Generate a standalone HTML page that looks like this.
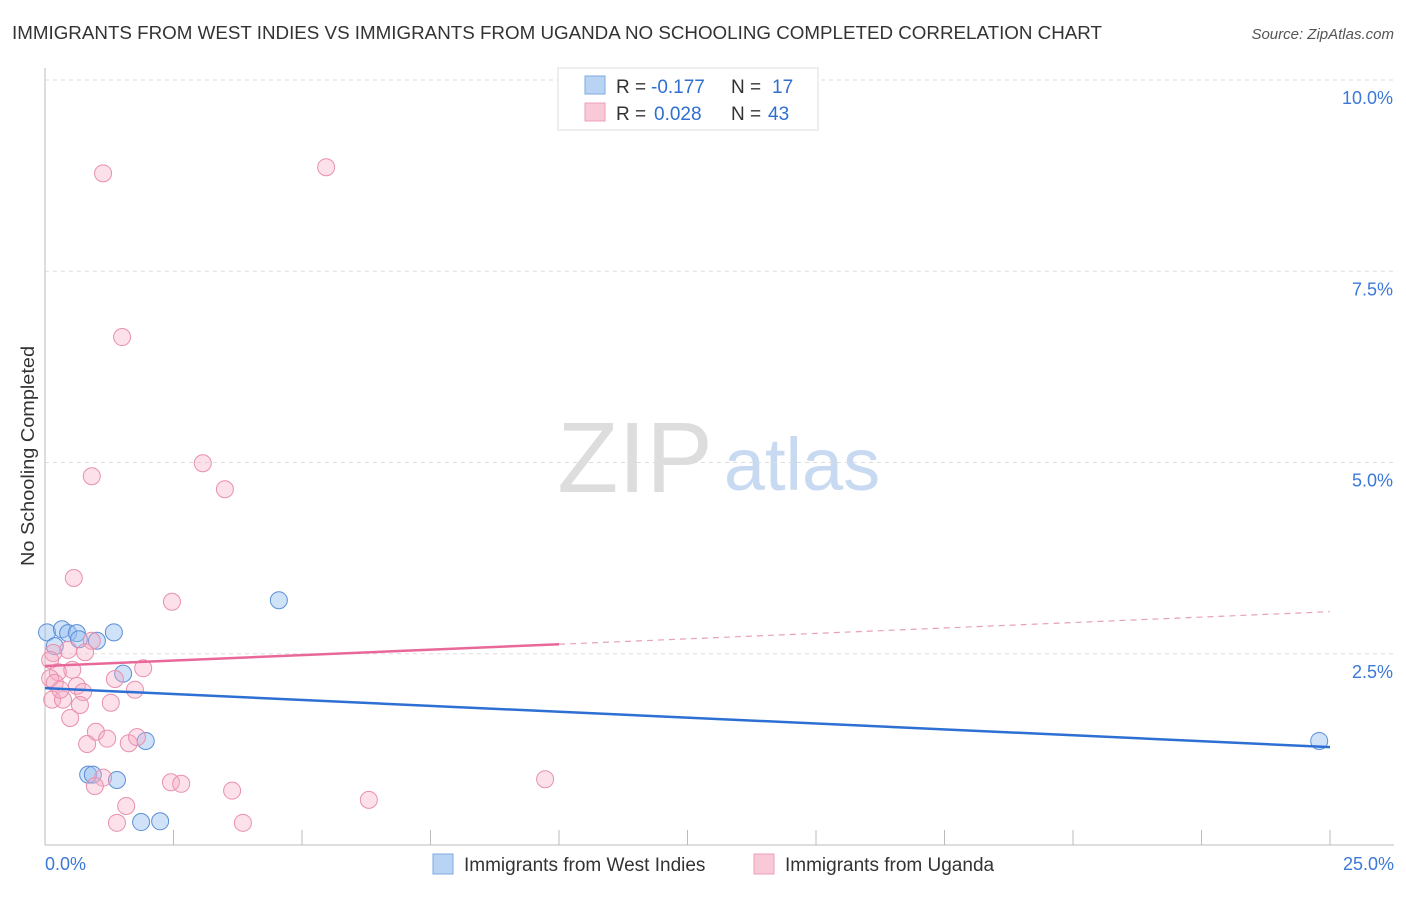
<!DOCTYPE html>
<html><head><meta charset="utf-8"><style>
body{margin:0;background:#fff;font-family:"Liberation Sans",sans-serif;}
svg text{font-family:"Liberation Sans",sans-serif;}
</style></head><body>
<svg id="chart" width="1406" height="892" xmlns="http://www.w3.org/2000/svg">
<text x="12" y="39" font-size="18" fill="#333" textLength="1090" lengthAdjust="spacingAndGlyphs">IMMIGRANTS FROM WEST INDIES VS IMMIGRANTS FROM UGANDA NO SCHOOLING COMPLETED CORRELATION CHART</text>
<text x="1394" y="39" font-size="15" fill="#555" text-anchor="end" font-style="italic">Source: ZipAtlas.com</text>
<text transform="translate(34,456) rotate(-90)" font-size="18" fill="#333" text-anchor="middle" textLength="220" lengthAdjust="spacingAndGlyphs">No Schooling Completed</text>
<g>
<text x="635" y="492" font-size="100" fill="#ddd" text-anchor="middle" font-family="Liberation Serif">ZIP</text>
<text x="802" y="490" font-size="74" fill="#c8daf2" text-anchor="middle">atlas</text>
</g>
<g id="grid"></g>
<g id="axes"></g>
<g id="marks"></g>
<g font-size="19">
<rect x="558" y="68" width="260" height="62" fill="#fff" stroke="#ddd"/>
<rect x="585" y="76" width="20" height="18" fill="#b9d3f5" stroke="#7ea8e0"/>
<rect x="585" y="103" width="20" height="18" fill="#f9c9d7" stroke="#eca0b9"/>
<text x="616" y="93" fill="#333">R =</text>
<text x="651" y="93" fill="#2f6fd0">-0.177</text>
<text x="731" y="93" fill="#333">N =</text>
<text x="772" y="93" fill="#2f6fd0">17</text>
<text x="616" y="120" fill="#333">R =</text>
<text x="654" y="120" fill="#2f6fd0">0.028</text>
<text x="731" y="120" fill="#333">N =</text>
<text x="768" y="120" fill="#2f6fd0">43</text>
</g>
<g>
<rect x="433" y="854" width="20" height="20" fill="#b9d3f5" stroke="#7ea8e0"/>
<text x="464" y="871" font-size="19" fill="#333">Immigrants from West Indies</text>
<rect x="754" y="854" width="20" height="20" fill="#f9c9d7" stroke="#eca0b9"/>
<text x="785" y="871" font-size="19" fill="#333">Immigrants from Uganda</text>
</g>
</svg>
<script>
const xTicks=[0,2.5,5,7.5,10,12.5,15,17.5,20,22.5,25];
const yTicks=[2.5,5,7.5,10];
const yTickLabels=["2.5%","5.0%","7.5%","10.0%"];
const blueX=[0.04,0.33,0.45,0.62,0.19,0.66,1.01,1.34,1.52,1.96,0.84,0.93,1.40,1.87,2.24,4.55,24.79];
const blueY=[2.78,2.82,2.77,2.77,2.60,2.69,2.67,2.78,2.24,1.36,0.92,0.92,0.85,0.30,0.31,3.20,1.36];
const pinkX=[1.13,5.47,1.50,0.91,3.07,3.50,0.56,2.47,0.91,0.78,0.45,0.16,1.91,0.53,0.25,0.10,0.19,1.36,0.62,0.74,1.75,0.14,0.35,0.68,1.28,0.49,0.99,0.82,1.21,1.63,1.79,1.13,0.97,2.45,2.65,3.64,1.58,1.40,3.85,6.30,9.73,0.10,0.30];
const pinkY=[8.78,8.86,6.64,4.82,4.99,4.65,3.49,3.18,2.67,2.52,2.55,2.51,2.31,2.29,2.26,2.18,2.12,2.17,2.08,2.00,2.03,1.90,1.90,1.83,1.86,1.66,1.48,1.32,1.39,1.33,1.41,0.88,0.77,0.82,0.80,0.71,0.51,0.29,0.29,0.59,0.86,2.42,2.03];
const blueTrend=[2.05,1.28];
const pinkTrend=[2.34,3.05];
const pinkSolidEnd=10;
const X=v=>45+v*(1285/25);
const Y=v=>845-v*76.5;
const NS="http://www.w3.org/2000/svg";
function mk(tag,attrs,parent){const e=document.createElementNS(NS,tag);for(const k in attrs)e.setAttribute(k,attrs[k]);parent.appendChild(e);return e;}
const grid=document.getElementById('grid'),axes=document.getElementById('axes'),marks=document.getElementById('marks');
yTicks.forEach((t,i)=>{
 const l=mk('line',{x1:45,x2:1394,y1:Y(t),y2:Y(t),stroke:'#ddd','stroke-dasharray':'4,4'},grid);
 
 
 const tx=mk('text',{x:1393,y:Y(t)+24,'font-size':18,fill:'#3b78d8','text-anchor':'end'},axes);
 tx.textContent=yTickLabels[i];
 
 
});
const ax=mk('line',{x1:45,x2:45,y1:68,y2:845,stroke:'#bbb'},axes);


const bx=mk('line',{x1:45,x2:1394,y1:845,y2:845,stroke:'#bbb'},axes);


xTicks.forEach(t=>{const l=mk('line',{x1:X(t),x2:X(t),y1:830,y2:845,stroke:'#bbb'},axes);
 
 });
const x0=mk('text',{x:45,y:870,'font-size':18,fill:'#3b78d8'},axes);x0.textContent='0.0%';


const x1=mk('text',{x:1394,y:870,'font-size':18,fill:'#3b78d8','text-anchor':'end'},axes);x1.textContent='25.0%';


blueX.forEach((v,i)=>{const c=mk('circle',{cx:X(v),cy:Y(blueY[i]),r:8.5,fill:'rgba(150,190,240,0.45)',stroke:'#5b8fd8','stroke-width':1},marks);
 
 });
pinkX.forEach((v,i)=>{const c=mk('circle',{cx:X(v),cy:Y(pinkY[i]),r:8.5,fill:'rgba(245,170,195,0.35)',stroke:'#e890ae','stroke-width':1},marks);
 
 });
const bl=mk('line',{x1:X(0),y1:Y(blueTrend[0]),x2:X(25),y2:Y(blueTrend[1]),stroke:'#2d6fd2','stroke-width':2.5},marks);


const pm=pinkTrend[0]+(pinkTrend[1]-pinkTrend[0])*pinkSolidEnd/25;
const pl=mk('line',{x1:X(0),y1:Y(pinkTrend[0]),x2:X(pinkSolidEnd),y2:Y(pm),stroke:'#e8689a','stroke-width':2.5},marks);


const pd=mk('line',{x1:X(pinkSolidEnd),y1:Y(pm),x2:X(25),y2:Y(pinkTrend[1]),stroke:'#e8a0b8','stroke-width':1.2,'stroke-dasharray':'6,5'},marks);


</script>
</body></html>
